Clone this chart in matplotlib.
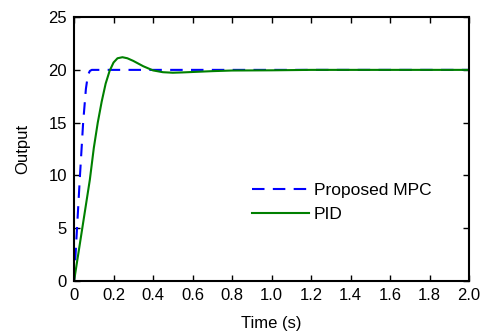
import matplotlib.pyplot as plt

plt.rcParams['font.family'] = ['Liberation Sans', 'DejaVu Sans']

# Proposed MPC response
t_mpc = [0, 0.015, 0.03, 0.046, 0.06, 0.07, 0.08, 0.09, 0.2, 0.5, 1.0, 1.5, 2.0]
y_mpc = [0, 5, 10, 15, 18.2, 19.5, 19.9, 20, 20, 20, 20, 20, 20]

# PID response
t_pid = [0, 0.02, 0.04, 0.06, 0.08, 0.1, 0.12, 0.14, 0.16, 0.18, 0.2, 0.22, 0.245,
         0.27, 0.3, 0.35, 0.4, 0.45, 0.5, 0.55, 0.6, 0.7, 0.8, 1.0, 1.2, 1.5, 2.0]
y_pid = [0, 2.4, 4.8, 7.2, 9.6, 12.6, 15.0, 17.0, 18.7, 19.9, 20.7, 21.1, 21.2,
         21.1, 20.85, 20.35, 19.95, 19.78, 19.73, 19.76, 19.8, 19.88, 19.94, 19.96, 20.0, 20.0, 20.0]

fig = plt.figure(figsize=(4.84, 3.35), dpi=100)
ax = fig.add_axes([0.153, 0.161, 0.816, 0.788])

ax.plot(t_mpc, y_mpc, color='blue', linestyle=(0, (6, 4)), linewidth=1.5, label='Proposed MPC')
ax.plot(t_pid, y_pid, color='green', linewidth=1.5, label='PID')

ax.set_xlim(0, 2.0)
ax.set_ylim(0, 25)
ax.set_xticks([0, 0.2, 0.4, 0.6, 0.8, 1.0, 1.2, 1.4, 1.6, 1.8, 2.0])
ax.set_xticklabels(['0', '0.2', '0.4', '0.6', '0.8', '1.0', '1.2', '1.4', '1.6', '1.8', '2.0'])
ax.set_yticks([0, 5, 10, 15, 20, 25])
ax.tick_params(direction='in', top=True, right=True, labelsize=12, length=4, width=1, pad=5)
for s in ax.spines.values():
    s.set_linewidth(1.5)

ax.set_xlabel('Time (s)', fontsize=12, labelpad=9)
ax.set_ylabel('Output', fontsize=12, labelpad=13)

ax.legend(loc='lower right', bbox_to_anchor=(0.945, 0.166), frameon=False, fontsize=12.5,
          handlelength=3.3, handletextpad=0.3, labelspacing=0.5)

plt.savefig('out.png', dpi=100)
